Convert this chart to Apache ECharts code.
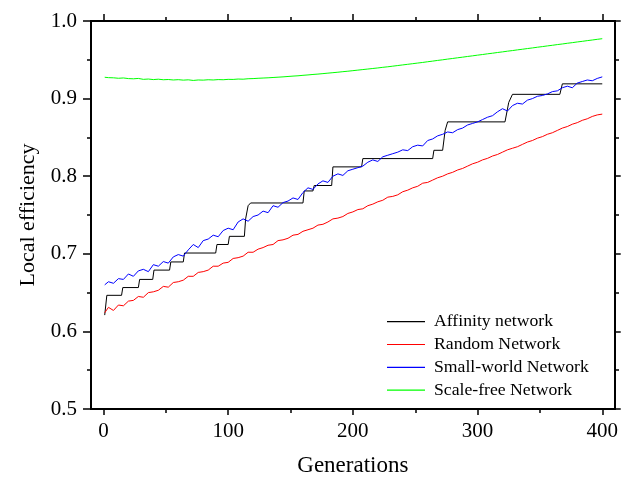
<!DOCTYPE html>
<html><head><meta charset="utf-8">
<script src="https://cdn.jsdelivr.net/npm/echarts@6/dist/echarts.min.js"></script>
<style>html,body{margin:0;padding:0;background:#fff}#c{width:621px;height:483px}</style>
</head><body><div id="c"></div>
<script>
// Generations sampled (1, then every 4)
const generations = [1];
for (let g = 4; g <= 400; g += 4) generations.push(g);

const seriesNames = ['Affinity network', 'Random Network', 'Small-world Network', 'Scale-free Network'];

// Affinity network: step curve breakpoints
const affinityGen = [1, 2.7, 14.5, 15.5, 28, 29, 39.5, 40.5, 53, 54, 64, 65, 90, 91, 100, 101, 113, 114, 116, 118, 160, 161, 168, 169, 183, 184, 207, 208, 264, 265, 272, 274, 276, 322, 325, 328, 366, 368, 400];
const affinityVal = [0.621, 0.6465, 0.6465, 0.6565, 0.6565, 0.667, 0.667, 0.679, 0.679, 0.6895, 0.6895, 0.701, 0.701, 0.712, 0.712, 0.7225, 0.7225, 0.745, 0.762, 0.7655, 0.7655, 0.781, 0.781, 0.788, 0.788, 0.812, 0.812, 0.8227, 0.8227, 0.8334, 0.8334, 0.859, 0.87, 0.87, 0.895, 0.9055, 0.9055, 0.919, 0.919];

const randomNet = [
0.624,0.631,0.627,0.634,0.633,0.639,0.640,0.645,0.644,0.650,
0.651,0.653,0.658,0.657,0.663,0.664,0.666,0.671,0.671,0.676,
0.677,0.679,0.684,0.684,0.688,0.689,0.694,0.695,0.697,0.702,
0.702,0.706,0.708,0.711,0.712,0.717,0.718,0.720,0.724,0.725,
0.729,0.731,0.733,0.737,0.738,0.741,0.745,0.746,0.748,0.752,
0.754,0.757,0.758,0.762,0.764,0.767,0.769,0.773,0.774,0.776,
0.780,0.782,0.785,0.787,0.791,0.792,0.795,0.798,0.800,0.803,
0.805,0.808,0.810,0.813,0.816,0.818,0.821,0.823,0.826,0.828,
0.831,0.834,0.836,0.838,0.841,0.844,0.846,0.849,0.851,0.854,
0.856,0.859,0.862,0.864,0.867,0.869,0.872,0.874,0.877,0.879,
0.880];

const smallWorld = [
0.660,0.664,0.662,0.668,0.667,0.674,0.671,0.678,0.680,0.677,
0.686,0.684,0.690,0.688,0.696,0.699,0.697,0.705,0.712,0.708,
0.717,0.719,0.724,0.722,0.730,0.733,0.731,0.741,0.745,0.742,
0.748,0.750,0.755,0.753,0.762,0.760,0.766,0.768,0.772,0.770,
0.779,0.785,0.783,0.790,0.794,0.792,0.800,0.803,0.801,0.807,
0.809,0.811,0.813,0.818,0.821,0.819,0.825,0.827,0.829,0.831,
0.834,0.833,0.838,0.840,0.839,0.846,0.848,0.852,0.854,0.857,
0.856,0.860,0.862,0.866,0.868,0.870,0.873,0.876,0.878,0.883,
0.887,0.884,0.891,0.894,0.893,0.898,0.900,0.903,0.904,0.906,
0.909,0.910,0.914,0.916,0.914,0.920,0.922,0.924,0.923,0.926,
0.928];

const scaleFree = [
0.9275,0.9270,0.9268,0.9262,0.9266,0.9258,0.9255,0.9260,0.9248,0.9252,
0.9245,0.9250,0.9243,0.9246,0.9240,0.9244,0.9238,0.9242,0.9234,0.9240,
0.9238,0.9243,0.9240,0.9245,0.9243,0.9248,0.9247,0.9252,0.9250,0.9256,
0.9258,0.9262,0.9265,0.9268,0.9272,0.9276,0.9280,0.9285,0.9290,0.9294,
0.9300,0.9305,0.9311,0.9316,0.9322,0.9328,0.9334,0.9340,0.9347,0.9353,
0.9360,0.9367,0.9374,0.9381,0.9388,0.9395,0.9403,0.9410,0.9418,0.9426,
0.9434,0.9442,0.9450,0.9458,0.9466,0.9475,0.9483,0.9492,0.9500,0.9509,
0.9517,0.9526,0.9534,0.9543,0.9551,0.9560,0.9568,0.9577,0.9585,0.9594,
0.9602,0.9611,0.9619,0.9628,0.9636,0.9645,0.9653,0.9662,0.9670,0.9679,
0.9687,0.9696,0.9704,0.9713,0.9721,0.9730,0.9738,0.9747,0.9755,0.9764,
0.9772];

const xMajorTicks = [0, 100, 200, 300, 400];
const xMinorTicks = [50, 150, 250, 350];
const yMajorTicks = [0.5, 0.6, 0.7, 0.8, 0.9, 1.0];
const yMinorTicks = [0.55, 0.65, 0.75, 0.85, 0.95];

const FONT = '"Liberation Serif", "Times New Roman", Times, serif';
const gridBox = { left: 91, right: 6, top: 21, bottom: 74 };
const lineCol = '#000';

function xAx(grid, pos, ticks, len, labels) {
  return {
    type: 'value', gridIndex: grid, position: pos, min: -10, max: 410,
    axisLine: { show: true, onZero: false, lineStyle: { color: lineCol, width: 2 } },
    axisTick: { show: true, inside: false, length: len, customValues: ticks, lineStyle: { color: lineCol, width: 1.5 } },
    axisLabel: labels ? { show: true, customValues: ticks, margin: 12, fontSize: 21, fontFamily: FONT, color: '#000' } : { show: false },
    splitLine: { show: false }
  };
}
function yAx(grid, pos, ticks, len, labels) {
  return {
    type: 'value', gridIndex: grid, position: pos, min: 0.5, max: 1.0,
    axisLine: { show: true, onZero: false, lineStyle: { color: lineCol, width: 2 } },
    axisTick: { show: true, inside: false, length: len, customValues: ticks, lineStyle: { color: lineCol, width: 1.5 } },
    axisLabel: labels ? { show: true, customValues: ticks, margin: 14, fontSize: 21, fontFamily: FONT, color: '#000', formatter: v => v.toFixed(1) } : { show: false },
    splitLine: { show: false }
  };
}

const xAxes = [
  Object.assign(xAx(0, 'bottom', xMajorTicks, 6, true), { name: 'Generations', nameLocation: 'middle', nameGap: 45, nameTextStyle: { fontSize: 23, fontFamily: FONT, color: '#000' } }),
  xAx(0, 'top', xMajorTicks, 7, false),
  xAx(1, 'bottom', xMinorTicks, 4, false),
  xAx(1, 'top', xMinorTicks, 4, false)
];
const yAxes = [
  Object.assign(yAx(0, 'left', yMajorTicks, 8, true), { name: 'Local efficiency', nameLocation: 'middle', nameGap: 52, nameTextStyle: { fontSize: 22, fontFamily: FONT, color: '#000' } }),
  yAx(0, 'right', yMajorTicks, 6, false),
  yAx(1, 'left', yMinorTicks, 4, false),
  yAx(1, 'right', yMinorTicks, 4, false)
];

function mk(name, color, data) {
  return { name, type: 'line', xAxisIndex: 0, yAxisIndex: 0, data, symbol: 'none', showSymbol: false,
    lineStyle: { color, width: 1 }, itemStyle: { color }, z: 3 };
}

const chart = echarts.init(document.getElementById('c'), null, { renderer: 'canvas' });
chart.setOption({
  animation: false,
  backgroundColor: '#fff',
  grid: [Object.assign({}, gridBox), Object.assign({}, gridBox)],
  xAxis: xAxes,
  yAxis: yAxes,
  legend: {
    data: seriesNames, orient: 'vertical', left: 387, top: 312.7, padding: 0,
    icon: 'path://M0,0 L38,0 L38,1.2 L0,1.2 Z',
    itemWidth: 38, itemHeight: 14, itemGap: 4.8,
    textStyle: { fontSize: 17.7, lineHeight: 18, fontFamily: FONT, color: '#000', padding: [0, 0, 0, 4] }
  },
  series: [
    mk(seriesNames[0], '#000000', affinityGen.map((g, i) => [g, affinityVal[i]])),
    mk(seriesNames[1], '#ff0000', generations.map((g, i) => [g, randomNet[i]])),
    mk(seriesNames[2], '#0000ff', generations.map((g, i) => [g, smallWorld[i]])),
    mk(seriesNames[3], '#00ff00', generations.map((g, i) => [g, scaleFree[i]]))
  ]
});
</script>
</body></html>
